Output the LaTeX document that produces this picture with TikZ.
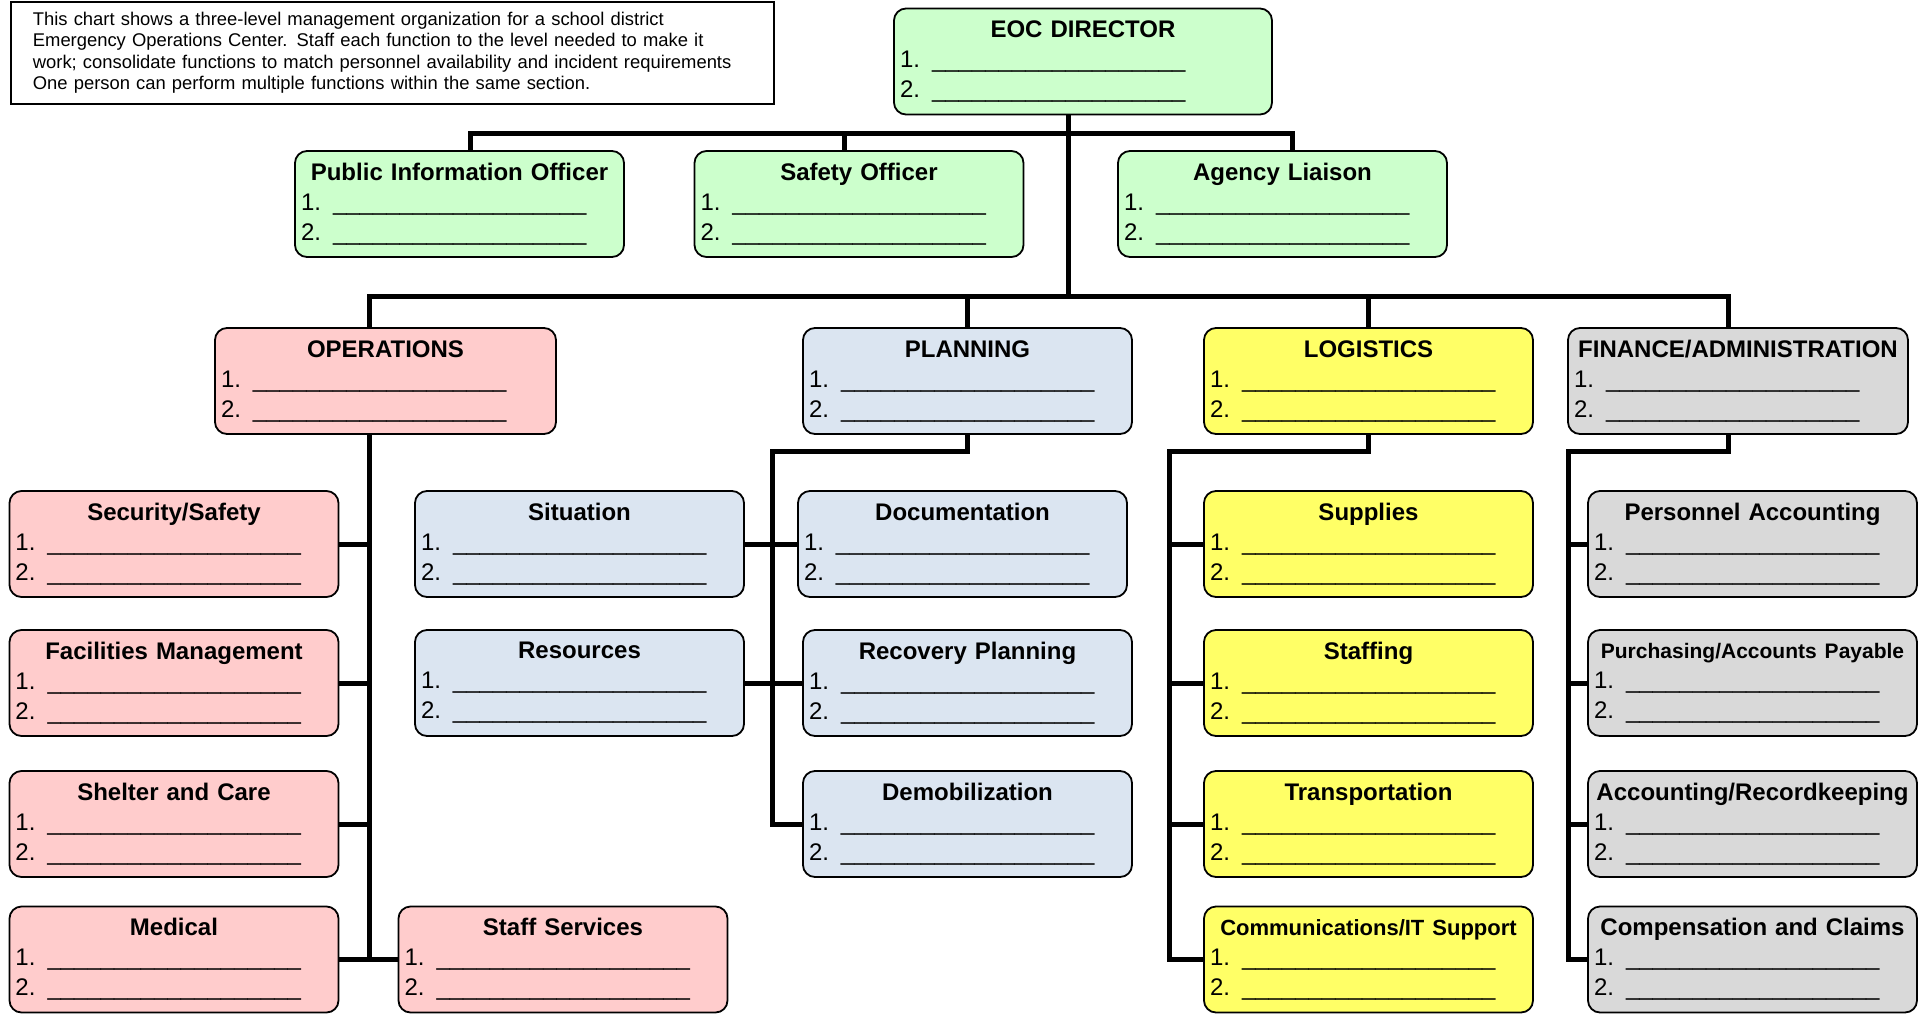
\documentclass[tikz,border=0pt]{standalone}
\usepackage{fontspec}
\setmainfont{Liberation Sans}
\usepackage{xcolor}
\usepackage{tikz}
\usetikzlibrary{backgrounds}
\definecolor{boxgreen}{HTML}{CCFFCC}
\definecolor{boxpink}{HTML}{FFCCCC}
\definecolor{boxblue}{HTML}{DBE5F1}
\definecolor{boxyellow}{HTML}{FFFF66}
\definecolor{boxgray}{HTML}{D9D9D9}
\tikzstyle{unit}=[draw=black,line width=0.9pt,rounded corners=6pt,minimum height=53pt,text width=158.5pt,inner xsep=3pt,inner ysep=2pt,align=left,font=\fontsize{12}{15}\selectfont]
\tikzstyle{command}=[unit,fill=boxgreen]
\tikzstyle{ops}=[unit,fill=boxpink]
\tikzstyle{plan}=[unit,fill=boxblue]
\tikzstyle{logs}=[unit,fill=boxyellow]
\tikzstyle{fin}=[unit,fill=boxgray]
\tikzstyle{link}=[line width=2.5pt]
\tikzstyle{note}=[draw=black,line width=0.9pt,anchor=north west,minimum width=381.5pt,minimum height=51pt,text width=359.5pt,inner xsep=11pt,align=left,font=\fontsize{9.2}{10.7}\selectfont]
\newcommand{\blanks}{\_\_\_\_\_\_\_\_\_\_\_\_\_\_\_\_\_\_\_}
\newcommand{\staffbox}[1]{{\centering\textbf{#1}\par}\noindent 1. \blanks\\2. \blanks}

\begin{document}
\begin{tikzpicture}[x=0.5pt,y=-0.5pt]
  \useasboundingbox (0,0) rectangle (1929,1013);
  \node at (10,1) [note] (Note) {This chart shows a three-level management organization for a school district\\Emergency Operations Center.  Staff each function to the level needed to make it\\work; consolidate functions to match personnel availability and incident requirements\\One person can perform multiple functions within the same section.};
  \node at (1083,61.5) [command,text width=183pt] (Director) {\staffbox{EOC DIRECTOR}};
  \node at ( 459.5,204) [command] (PIO) {\staffbox{Public Information Officer}};
  \node at ( 859,204) [command] (Safety) {\staffbox{Safety Officer}};
  \node at (1282.5,204) [command] (Agency) {\staffbox{Agency Liaison}};
  \node at ( 385.5,381) [ops,text width=164.5pt] (Operations) {\staffbox{OPERATIONS}};
  \node at ( 967.5,381) [plan] (Planning) {\staffbox{PLANNING}};
  \node at (1368.5,381) [logs] (Logistics) {\staffbox{LOGISTICS}};
  \node at (1738,381) [fin,text width=164pt] (Finance) {\staffbox{FINANCE/ADMINISTRATION}};
  \node at ( 174,544) [ops] (Security) {\staffbox{Security/Safety}};
  \node at ( 174,683) [ops] (Facilities) {\staffbox{Facilities Management}};
  \node at ( 174,824) [ops] (Shelter) {\staffbox{Shelter and Care}};
  \node at ( 174,959.5) [ops] (Medical) {\staffbox{Medical}};
  \node at ( 563,959.5) [ops] (StaffServices) {\staffbox{Staff Services}};
  \node at ( 579.5,544) [plan] (Situation) {\staffbox{Situation}};
  \node at ( 579.5,683) [plan] (Resources) {\staffbox{Resources}};
  \node at ( 962.5,544) [plan] (Documentation) {\staffbox{Documentation}};
  \node at ( 967.5,683) [plan] (Recovery) {\staffbox{Recovery Planning}};
  \node at ( 967.5,824) [plan] (Demobilization) {\staffbox{Demobilization}};
  \node at (1368.5,544) [logs] (Supplies) {\staffbox{Supplies}};
  \node at (1368.5,683) [logs] (Staffing) {\staffbox{Staffing}};
  \node at (1368.5,824) [logs] (Transportation) {\staffbox{Transportation}};
  \node at (1368.5,959.5) [logs] (Communications) {\staffbox{\fontsize{11}{15}\selectfont Communications/IT Support}};
  \node at (1752.5,544) [fin] (Personnel) {\staffbox{Personnel Accounting}};
  \node at (1752.5,683) [fin] (Purchasing) {\staffbox{\fontsize{10.5}{15}\selectfont Purchasing/Accounts Payable}};
  \node at (1752.5,824) [fin] (Recordkeeping) {\staffbox{Accounting/Recordkeeping}};
  \node at (1752.5,959.5) [fin] (Compensation) {\staffbox{Compensation and Claims}};
  \coordinate (bus1) at (0,133);
  \coordinate (bus2) at (0,296.5);
  \coordinate (bus3) at (0,451.5);
  \coordinate (pioDrop) at (470,0);
  \coordinate (safetyDrop) at (844,0);
  \coordinate (agencyDrop) at (1292,0);
  \coordinate (dirSpine) at (1068,0);
  \coordinate (finDrop) at (1728,0);
  \coordinate (opsSpine) at (369,0);
  \coordinate (planSpine) at (772.5,0);
  \coordinate (logSpine) at (1169,0);
  \coordinate (finSpine) at (1568.5,0);
  \begin{pgfonlayer}{background}
    \draw [link] (PIO.north -| pioDrop) |- (agencyDrop |- bus1) -- (Agency.north -| agencyDrop);
    \draw [link] (Safety.north -| safetyDrop) -- (safetyDrop |- bus1);
    \draw [link] (Director.south -| dirSpine) -- (dirSpine |- bus2);
    \draw [link] (Operations.north -| opsSpine) |- (finDrop |- bus2) -- (Finance.north -| finDrop);
    \draw [link] (Planning.north) -- (Planning.north |- bus2);
    \draw [link] (Logistics.north) -- (Logistics.north |- bus2);
    \draw [link] (Operations.south -| opsSpine) -- (opsSpine |- Medical.east);
    \draw [link] (Security.east) -- (Security.east -| opsSpine);
    \draw [link] (Facilities.east) -- (Facilities.east -| opsSpine);
    \draw [link] (Shelter.east) -- (Shelter.east -| opsSpine);
    \draw [link] (Medical.east) -- (StaffServices.west);
    \draw [link] (Planning.south) |- (planSpine |- bus3) -- (planSpine |- Demobilization.west) -- (Demobilization.west);
    \draw [link] (Situation.east) -- (Documentation.west);
    \draw [link] (Resources.east) -- (Recovery.west);
    \draw [link] (Logistics.south) |- (logSpine |- bus3) -- (logSpine |- Communications.west) -- (Communications.west);
    \draw [link] (logSpine |- Supplies.west) -- (Supplies.west);
    \draw [link] (logSpine |- Staffing.west) -- (Staffing.west);
    \draw [link] (logSpine |- Transportation.west) -- (Transportation.west);
    \draw [link] (Finance.south -| finDrop) |- (finSpine |- bus3) -- (finSpine |- Compensation.west) -- (Compensation.west);
    \draw [link] (finSpine |- Personnel.west) -- (Personnel.west);
    \draw [link] (finSpine |- Purchasing.west) -- (Purchasing.west);
    \draw [link] (finSpine |- Recordkeeping.west) -- (Recordkeeping.west);
  \end{pgfonlayer}
\end{tikzpicture}
\end{document}
